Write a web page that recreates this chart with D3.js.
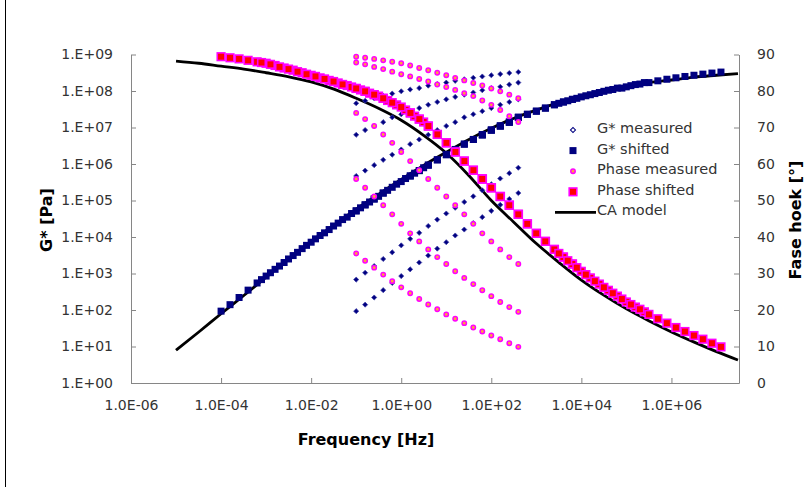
<!DOCTYPE html>
<html>
<head>
<meta charset="utf-8">
<script src="https://cdn.jsdelivr.net/npm/d3@7"></script>
<style>
    body { margin: 0; background: #fff; }
    text { font-family: "DejaVu Sans", sans-serif; }
</style>
</head>
<body>
<svg id="chart" width="810" height="487"></svg>
<script>
// measured frequencies [Hz] (same for every isotherm)
var freq = [0.1, 0.158, 0.251, 0.398, 0.631, 1, 1.58, 2.51, 3.98, 6.31,
    10, 15.8, 25.1, 39.8, 63.1, 100, 158, 251, 398];

// shift factors aT, one per isotherm
var shiftFactors = [0.001, 0.0079, 1, 16, 630, 31600];

// G* measured [Pa]
var gSet1 = [9.3e1, 1.4e2, 2.2e2, 3.5e2, 5.5e2, 8.5e2, 1.3e3, 2.0e3, 3.1e3, 4.8e3, 7.2e3, 1.1e4, 1.6e4, 2.4e4, 3.5e4, 5.2e4, 7.6e4, 1.1e5, 1.6e5];
var gSet2 = [6.8e2, 1.05e3, 1.6e3, 2.5e3, 3.8e3, 5.9e3, 8.9e3, 1.3e4, 2.0e4, 3.0e4, 4.4e4, 6.3e4, 9.1e4, 1.3e5, 1.9e5, 2.8e5, 4.0e5, 5.6e5, 7.9e5];
var gSet3 = [5.2e4, 7.6e4, 1.1e5, 1.6e5, 2.3e5, 3.3e5, 4.7e5, 6.6e5, 9.3e5, 1.3e6, 1.8e6, 2.5e6, 3.5e6, 4.7e6, 6.3e6, 8.5e6, 1.1e7, 1.4e7, 1.9e7];
var gSet4 = [4.7e5, 6.6e5, 9.3e5, 1.3e6, 1.8e6, 2.5e6, 3.5e6, 4.7e6, 6.3e6, 8.5e6, 1.1e7, 1.4e7, 1.9e7, 2.3e7, 2.8e7, 3.4e7, 4.2e7, 5.0e7, 5.9e7];
var gSet5 = [6.3e6, 8.5e6, 1.1e7, 1.4e7, 1.9e7, 2.3e7, 2.8e7, 3.4e7, 4.2e7, 5.0e7, 5.9e7, 6.9e7, 7.9e7, 9.1e7, 1.05e8, 1.2e8, 1.3e8, 1.5e8, 1.7e8];
var gSet6 = [4.6e7, 5.4e7, 6.3e7, 7.4e7, 8.5e7, 9.8e7, 1.1e8, 1.2e8, 1.4e8, 1.55e8, 1.7e8, 1.9e8, 2.1e8, 2.3e8, 2.5e8, 2.7e8, 2.9e8, 3.1e8, 3.3e8];

// phase angle measured [deg]
var phSet1 = [89.4, 89.1, 88.8, 88.4, 88.0, 87.6, 87.0, 86.3, 85.7, 85.0, 84.3, 83.6, 82.9, 82.2, 81.5, 80.7, 79.9, 79.0, 78.0];
var phSet2 = [87.8, 87.3, 86.6, 86.0, 85.3, 84.6, 84.0, 83.3, 82.6, 81.8, 81.1, 80.3, 79.4, 78.6, 77.4, 76.2, 74.8, 73.1, 71.5];
var phSet3 = [80.7, 79.9, 79.0, 78.0, 76.8, 75.6, 74.0, 72.3, 70.4, 68.1, 65.8, 63.3, 60.8, 58.3, 55.9, 53.5, 51.1, 48.7, 46.2];
var phSet4 = [74.0, 72.3, 70.4, 68.1, 65.8, 63.3, 60.8, 58.3, 55.9, 53.5, 51.1, 48.7, 46.2, 43.6, 41.0, 38.8, 36.6, 34.5, 32.6];
var phSet5 = [55.9, 53.5, 51.1, 48.7, 46.2, 43.6, 41.0, 38.8, 36.6, 34.5, 32.6, 30.6, 28.8, 27.1, 25.4, 23.8, 22.2, 20.8, 19.5];
var phSet6 = [35.5, 33.5, 31.6, 29.7, 27.9, 26.2, 24.6, 23.0, 21.5, 20.2, 18.8, 17.6, 16.4, 15.2, 14.1, 13.0, 12.0, 10.9, 9.9];

// CA model
var caFreq = [1e-5, 3.2e-5, 1e-4, 3.2e-4, 1e-3, 3.2e-3, 1e-2, 3.2e-2, 0.1, 0.32, 1, 3.2, 10, 32, 100, 320,
    1e3, 3.2e3, 1e4, 3.2e4, 1e5, 3.2e5, 1e6, 3.2e6, 1e7, 3e7];
var caG = [7.9, 25, 79, 250, 790, 2.5e3, 7.6e3, 2.1e4, 5.8e4, 1.5e5, 3.8e5, 9.3e5, 2.1e6, 4.7e6, 9.5e6, 1.8e7,
    3.0e7, 4.8e7, 7.1e7, 1.0e8, 1.3e8, 1.7e8, 2.0e8, 2.4e8, 2.7e8, 3.0e8];
var caPhase = [88.2, 87.6, 86.8, 86.0, 85.0, 83.9, 82.5, 80.5, 78.0, 75.2, 72.0, 67.8, 63.0, 56.8, 50.0, 44.0,
    38.2, 33.0, 28.2, 24.0, 20.3, 17.0, 14.0, 11.2, 8.6, 6.3];

// axis ticks
var xTicks = [1e-6, 1e-4, 1e-2, 1, 1e2, 1e4, 1e6];
var yTicks = [1, 1e1, 1e2, 1e3, 1e4, 1e5, 1e6, 1e7, 1e8, 1e9];
var y2Ticks = [0, 10, 20, 30, 40, 50, 60, 70, 80, 90];

var legendNames = ["G* measured", "G* shifted", "Phase measured", "Phase shifted", "CA model"];

var gSets = [gSet1, gSet2, gSet3, gSet4, gSet5, gSet6];
var phSets = [phSet1, phSet2, phSet3, phSet4, phSet5, phSet6];

var navy = "#000080", magenta = "#ff00ff", red = "#ff0000", axisGrey = "#868686";

var svg = d3.select("#chart");

var x = d3.scaleLog().domain([1e-6, Math.pow(10, 7.5)]).range([131, 739]);
var y = d3.scaleLog().domain([1, 1e9]).range([383, 54.5]);
var y2 = d3.scaleLinear().domain([0, 90]).range([383, 54.5]);

function expo(e) {
    return (e < 0 ? "-" : "+") + ("00" + Math.abs(e)).slice(-2);
}

// chart border (left edge visible)
svg.append("line")
    .attr("x1", 5.5).attr("x2", 5.5).attr("y1", 0).attr("y2", 487)
    .attr("stroke", "#000").attr("stroke-width", 1);

// axes
var xAxis = d3.axisBottom(x).tickValues(xTicks).tickSize(-5).tickSizeOuter(0).tickPadding(17)
    .tickFormat(function (d) { return "1.0E" + expo(Math.round(Math.log10(d))); });
var yAxis = d3.axisLeft(y).tickValues(yTicks).tickSize(-5).tickSizeOuter(0).tickPadding(18)
    .tickFormat(function (d) { return "1.E" + expo(Math.round(Math.log10(d))); });
var y2Axis = d3.axisRight(y2).tickValues(y2Ticks).tickSize(-5).tickSizeOuter(0).tickPadding(18);

function styleAxis(g) {
    g.selectAll("path, line").attr("stroke", axisGrey);
    g.selectAll("text").attr("fill", "#333").style("font-size", "14px").style("font-family", '"DejaVu Sans", sans-serif');
}

svg.append("g").attr("transform", "translate(0,383)").call(xAxis).call(styleAxis);
svg.append("g").attr("transform", "translate(131,0)").call(yAxis).call(styleAxis);
svg.append("g").attr("transform", "translate(739,0)").call(y2Axis).call(styleAxis);

// axis titles
svg.append("text").attr("x", 366).attr("y", 445).attr("text-anchor", "middle")
    .style("font-size", "16px").style("font-weight", "bold").text("Frequency [Hz]");
svg.append("text").attr("transform", "translate(52,220) rotate(-90)").attr("text-anchor", "middle")
    .style("font-size", "16px").style("font-weight", "bold").text("G* [Pa]");
svg.append("text").attr("transform", "translate(801,220) rotate(-90)").attr("text-anchor", "middle")
    .style("font-size", "16px").style("font-weight", "bold").text("Fase hoek [°]");

// CA model lines (underneath the markers)
var caLineG = d3.line().curve(d3.curveMonotoneX)
    .x(function (d, i) { return x(caFreq[i]); })
    .y(function (d) { return y(d); });
var caLinePh = d3.line().curve(d3.curveMonotoneX)
    .x(function (d, i) { return x(caFreq[i]); })
    .y(function (d) { return y2(d); });

svg.append("path").attr("d", caLineG(caG)).attr("fill", "none").attr("stroke", "#000").attr("stroke-width", 2.8);
svg.append("path").attr("d", caLinePh(caPhase)).attr("fill", "none").attr("stroke", "#000").attr("stroke-width", 2.8);

// flatten measured + shifted points
var gPts = [], phPts = [];
gSets.forEach(function (set, k) {
    set.forEach(function (v, i) {
        gPts.push({f: freq[i], fs: freq[i] * shiftFactors[k], v: v});
    });
});
phSets.forEach(function (set, k) {
    set.forEach(function (v, i) {
        phPts.push({f: freq[i], fs: freq[i] * shiftFactors[k], v: v});
    });
});

// small square turned 45 degrees, like the Excel diamond marker
var diamond = d3.symbol().type(d3.symbolSquare).size(13);

// G* measured
svg.append("g").selectAll("path").data(gPts).enter().append("path")
    .attr("d", diamond)
    .attr("transform", function (d) { return "translate(" + x(d.f) + "," + y(d.v) + ") rotate(45)"; })
    .attr("fill", navy).attr("stroke", "#4040a8").attr("stroke-width", 0.7);

// G* shifted
svg.append("g").selectAll("rect").data(gPts).enter().append("rect")
    .attr("x", function (d) { return x(d.fs) - 3.5; })
    .attr("y", function (d) { return y(d.v) - 3.5; })
    .attr("width", 7).attr("height", 7)
    .attr("fill", navy);

// Phase measured
svg.append("g").selectAll("circle").data(phPts).enter().append("circle")
    .attr("cx", function (d) { return x(d.f); })
    .attr("cy", function (d) { return y2(d.v); })
    .attr("r", 2.2)
    .attr("fill", "#ffa040").attr("stroke", magenta).attr("stroke-width", 1.5);

// Phase shifted
svg.append("g").selectAll("rect").data(phPts).enter().append("rect")
    .attr("x", function (d) { return x(d.fs) - 3.8; })
    .attr("y", function (d) { return y2(d.v) - 3.8; })
    .attr("width", 7.6).attr("height", 7.6)
    .attr("fill", red).attr("stroke", magenta).attr("stroke-width", 1.6);

// legend
var legend = svg.append("g");
legendNames.forEach(function (name, i) {
    var cy = 130 + i * 20.6;
    var mx = 573;
    if (i === 0) {
        legend.append("path").attr("d", diamond).attr("transform", "translate(" + mx + "," + cy + ") rotate(45)")
            .attr("fill", "#fff").attr("stroke", navy).attr("stroke-width", 1);
    } else if (i === 1) {
        legend.append("rect").attr("x", mx - 3.5).attr("y", cy - 3.5).attr("width", 7).attr("height", 7).attr("fill", navy);
    } else if (i === 2) {
        legend.append("circle").attr("cx", mx).attr("cy", cy).attr("r", 2.2)
            .attr("fill", "#ffa040").attr("stroke", magenta).attr("stroke-width", 1.5);
    } else if (i === 3) {
        legend.append("rect").attr("x", mx - 3.8).attr("y", cy - 3.8).attr("width", 7.6).attr("height", 7.6)
            .attr("fill", red).attr("stroke", magenta).attr("stroke-width", 1.6);
    } else {
        legend.append("line").attr("x1", 555).attr("x2", 596).attr("y1", cy).attr("y2", cy)
            .attr("stroke", "#000").attr("stroke-width", 2.8);
    }
    legend.append("text").attr("x", 597).attr("y", cy - 2).attr("dy", "0.35em")
        .style("font-size", "14.5px").attr("fill", "#333").text(name);
});
</script>
</body>
</html>
